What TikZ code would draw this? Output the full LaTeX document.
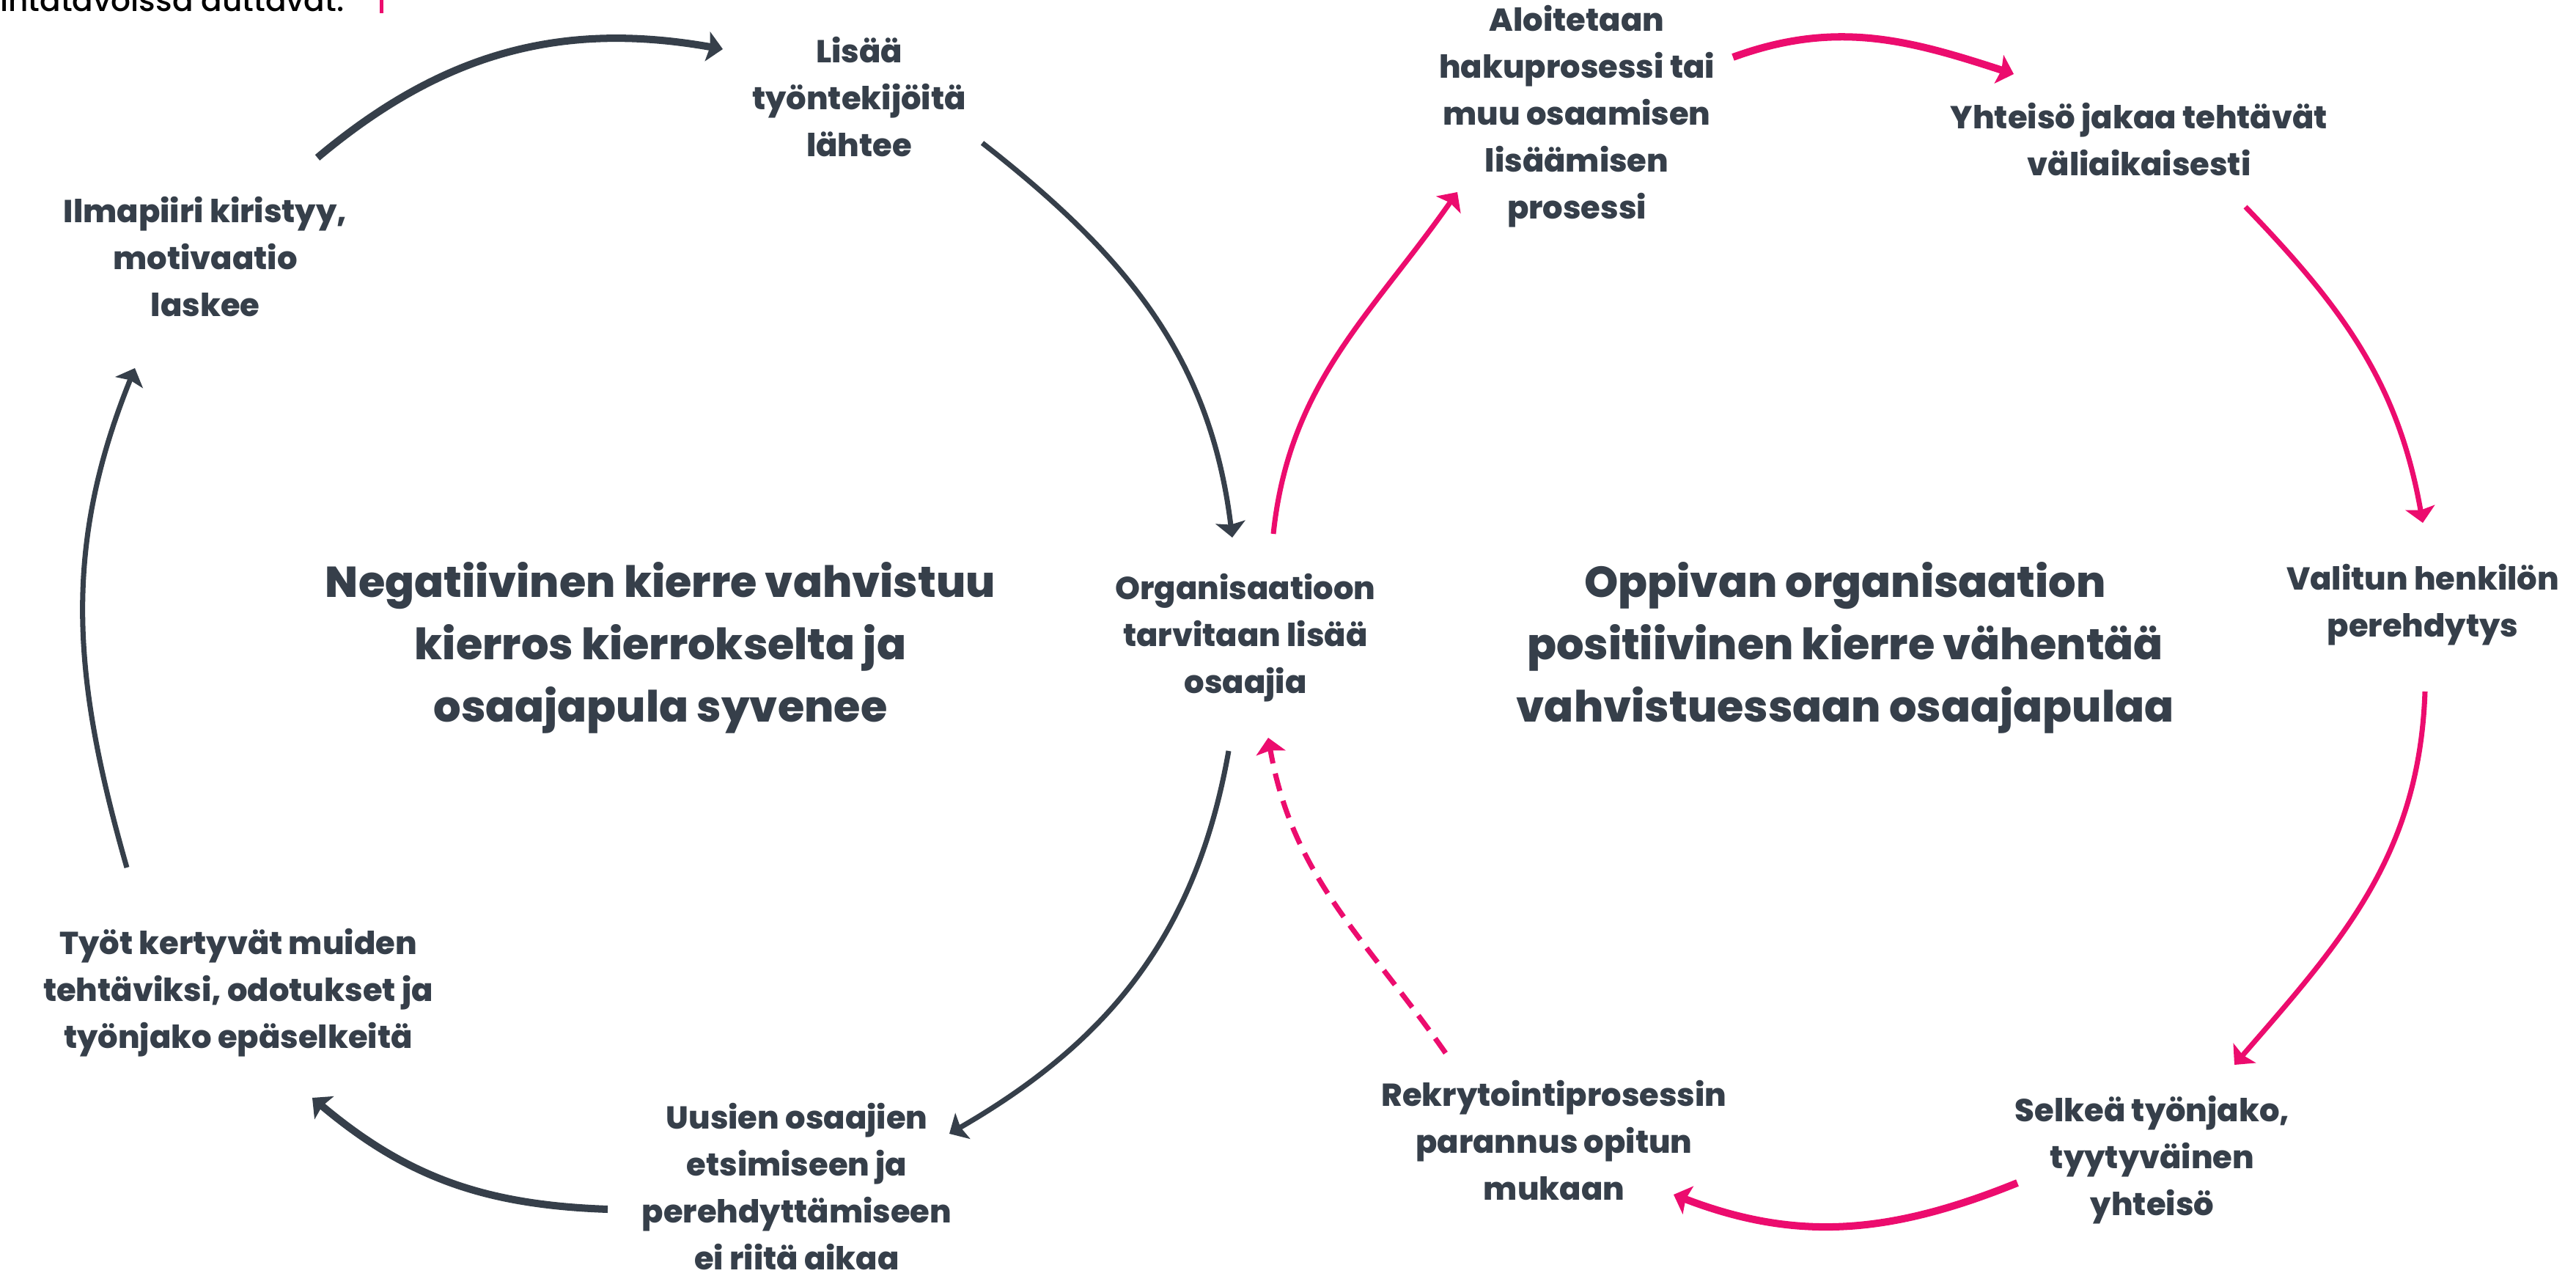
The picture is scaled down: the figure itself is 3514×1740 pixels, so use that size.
\documentclass[tikz,border=0pt]{standalone}
\usepackage{fontspec}
\setmainfont{Poppins}[BoldFont={Poppins ExtraBold}]
\newfontfamily\leadfont{Poppins Medium}
\usepackage{xcolor}
\definecolor{colord}{RGB}{54,63,74}
\definecolor{colorp}{RGB}{236,12,110}
\usepackage{tikz}
\usetikzlibrary{arrows.meta}
\tikzstyle{textbox} = [align=center, text=colord, inner sep=0pt, font=\bfseries\fontsize{12.3}{18.2}\selectfont]
\tikzstyle{titlebox} = [align=center, text=colord, inner sep=0pt, font=\bfseries\fontsize{16.75}{24.2}\selectfont]
\tikzstyle{arrowD} = [-{Stealth[length=6pt,width=11.5pt,inset=1pt]}, line width=2pt, draw=colord]
\tikzstyle{arrowDthick} = [arrowD, line width=2.85pt]
\tikzstyle{arrowP} = [-{Stealth[length=6pt,width=11.5pt,inset=1pt]}, line width=2pt, draw=colorp]
\tikzstyle{arrowPthick} = [arrowP, line width=2.85pt]
\tikzstyle{arrowPdash} = [arrowP, dash pattern=on 7pt off 4pt]

\begin{document}
\begin{tikzpicture}[x=0.01cm,y=0.01cm]
  \useasboundingbox (0,0) rectangle (3514,-1740);

  \node[anchor=base east, text=black, font=\leadfont\fontsize{12}{14}\selectfont] (lead) at (482,-16) {toimintatavoissa auttavat:};
  \fill[colorp] (518,0) rectangle (523,-18);

  \node[titlebox] (negt) at (901,-883) {Negatiivinen kierre vahvistuu\\kierros kierrokselta ja\\osaajapula syvenee};
  \node[titlebox] (post) at (2517,-883) {Oppivan organisaation\\positiivinen kierre vähentää\\vahvistuessaan osaajapulaa};

  \node[textbox] (lisaa) at (1172,-132) {Lisää\\työntekijöitä\\lähtee};
  \node[textbox] (ilma) at (280,-350) {Ilmapiiri kiristyy,\\motivaatio\\laskee};
  \node[textbox] (tyot) at (325,-1354) {Työt kertyvät muiden\\tehtäviksi, odotukset ja\\työnjako epäselkeitä};
  \node[textbox] (uusien) at (1087,-1618) {Uusien osaajien\\etsimiseen ja\\perehdyttämiseen\\ei riitä aikaa};
  \node[textbox] (org) at (1699,-870) {Organisaatioon\\tarvitaan lisää\\osaajia};

  \node[textbox] (aloit) at (2151,-159) {Aloitetaan\\hakuprosessi tai\\muu osaamisen\\lisäämisen\\prosessi};
  \node[textbox] (yht) at (2918,-190) {Yhteisö jakaa tehtävät\\väliaikaisesti};
  \node[textbox] (valit) at (3305,-825) {Valitun henkilön\\perehdytys};
  \node[textbox] (selk) at (2936,-1582) {Selkeä työnjako,\\tyytyväinen\\yhteisö};
  \node[textbox] (rekry) at (2120,-1555) {Rekrytointiprosessin\\parannus opitun\\mukaan};

  \draw[arrowDthick] ([shift={(153,135)}]ilma.center) to[out=40,in=170] ([shift={(-186,65)}]lisaa.center);
  \draw[arrowD] ([shift={(168,-63)}]lisaa.center) to[out=-38,in=97] ([shift={(-18,137)}]org.center);
  \draw[arrowD] ([shift={(-23,-154)}]org.center) to[out=-100,in=30] ([shift={(208,72)}]uusien.center);
  \draw[arrowDthick] ([shift={(-258,-31)}]uusien.center) to[out=178,in=-40] ([shift={(101,-143)}]tyot.center);
  \draw[arrowD] ([shift={(-152,171)}]tyot.center) to[out=106,in=-112] ([shift={(-96,-152)}]ilma.center);

  \draw[arrowP] ([shift={(38,142)}]org.center) to[out=84,in=235] ([shift={(-163,-103)}]aloit.center);
  \draw[arrowPthick] ([shift={(213,81)}]aloit.center) to[out=20,in=162] ([shift={(-171,89)}]yht.center);
  \draw[arrowP] ([shift={(145,-92)}]yht.center) to[out=-46,in=100] ([shift={(0,112)}]valit.center);
  \draw[arrowP] ([shift={(3,-118)}]valit.center) to[out=-92,in=49] ([shift={(112,130)}]selk.center);
  \draw[arrowPthick] ([shift={(-184,-31)}]selk.center) to[out=-158,in=-21] ([shift={(163,-74)}]rekry.center);
  \draw[arrowPdash] ([shift={(-148,119)}]rekry.center) to[out=125,in=-80] ([shift={(31,-136)}]org.center);
\end{tikzpicture}
\end{document}
